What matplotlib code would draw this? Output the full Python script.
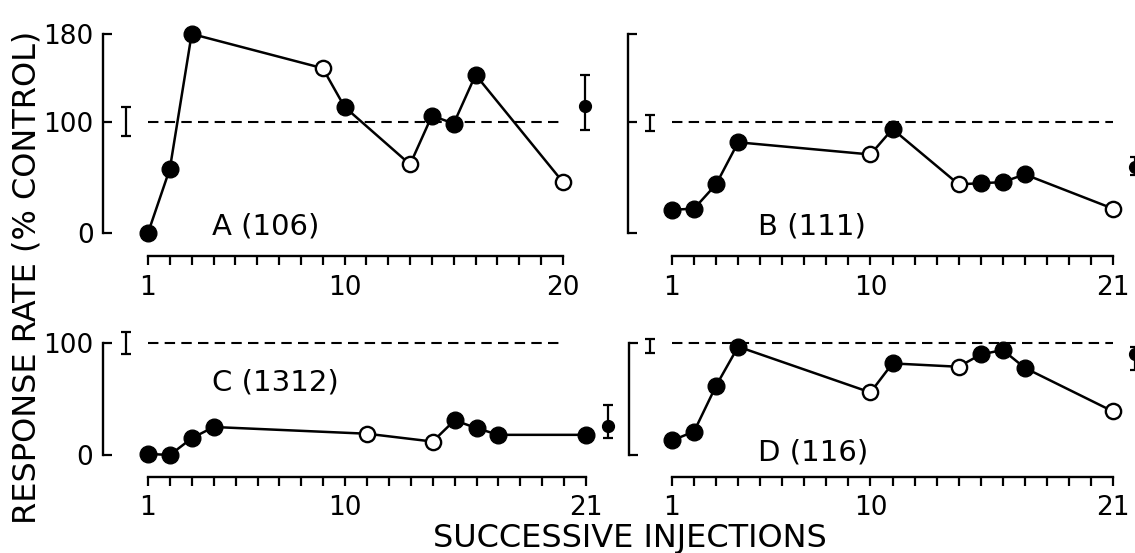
import matplotlib
matplotlib.use("Agg")
import matplotlib.pyplot as plt

# --- data (response rate, % of control) ---
A_inj = [1, 2, 3, 9, 10, 13, 14, 15, 16, 20]
A_rate = [0, 58, 180, 149, 114, 62, 106, 99, 143, 46]
A_open = [9, 13, 20]

B_inj = [1, 2, 3, 4, 10, 11, 14, 15, 16, 17, 21]
B_rate = [21, 22, 44, 82, 71, 94, 44, 45, 46, 53, 22]
B_open = [10, 14, 21]

C_inj = [1, 2, 3, 4, 11, 14, 15, 16, 17, 21]
C_rate = [1, 0, 15, 25, 19, 12, 31, 24, 18, 18]
C_open = [11, 14]

D_inj = [1, 2, 3, 4, 10, 11, 14, 15, 16, 17, 21]
D_rate = [13, 21, 62, 97, 56, 82, 79, 90, 94, 78, 39]
D_open = [10, 14, 21]

panel_names = ["A (106)", "B (111)", "C (1312)", "D (116)"]
n_inj = [20, 21, 21, 21]
y_top = [180, 180, 100, 100]
x_ticklabels = [["1", "10", "20"], ["1", "10", "21"], ["1", "10", "21"], ["1", "10", "21"]]

# control variability ("I" at left) and post-series point with range (right)
ctrl_lo = [88, 92, 90, 91]
ctrl_hi = [114, 107, 110, 104]
side_inj = [21, 22, 22, 22]
side_mean = [115, 60, 26, 90]
side_lo = [93, 52, 15, 76]
side_hi = [143, 69, 45, 97]

W, H = 1135, 553
fig = plt.figure(figsize=(W / 100, H / 100), dpi=100)
plt.rcParams["font.family"] = "DejaVu Sans"

# pixel geometry per panel: box (l, r, t, b), x of injection 1, px per injection, y of 0, px per %
GEOM = [
    ((95, 620, 20, 300), 148, 21.84, 233, 1.106),
    ((615, 1135, 20, 300), 672, 22.05, 233, 1.106),
    ((95, 620, 320, 520), 148, 21.9, 455, 1.12),
    ((615, 1135, 320, 520), 672, 22.05, 455, 1.117),
]
YSPINE_X = [-1.05, -1.0, -1.05, -0.97]
XSPINE_Y = [-20.8, -20.8, -19.4, -19.4]
DASH_END = [20, 21, 20, 21]
LABEL_POS = [(3.93, -1.8), (4.9, -1.8), (3.92, 58), (4.9, -4.5)]


def add_panel(box, x1, dx, y0, dy):
    l, r, t, b = box
    ax = fig.add_axes([l / W, 1 - b / H, (r - l) / W, (b - t) / H])
    ax.set_xlim(1 + (l - x1) / dx, 1 + (r - x1) / dx)
    ax.set_ylim((y0 - b) / dy, (y0 - t) / dy)
    ax.patch.set_visible(False)
    return ax


series = [(A_inj, A_rate, A_open), (B_inj, B_rate, B_open),
          (C_inj, C_rate, C_open), (D_inj, D_rate, D_open)]

for i, (inj, rate, opn) in enumerate(series):
    ax = add_panel(*GEOM[i])
    n = n_inj[i]

    for s in ["top", "right"]:
        ax.spines[s].set_visible(False)
    ax.spines["left"].set_position(("data", YSPINE_X[i]))
    ax.spines["left"].set_bounds(0, y_top[i])
    ax.spines["bottom"].set_position(("data", XSPINE_Y[i]))
    ax.spines["bottom"].set_bounds(1, n)
    for s in ["left", "bottom"]:
        ax.spines[s].set_linewidth(1.7)

    ax.set_xticks(range(1, n + 1))
    lab = {1: x_ticklabels[i][0], 10: x_ticklabels[i][1], n: x_ticklabels[i][2]}
    ax.set_xticklabels([lab.get(k, "") for k in range(1, n + 1)])
    ax.tick_params(axis="x", direction="out", length=6.5, width=1.6, pad=7, labelsize=19)

    yt = [0, 100, 180] if y_top[i] == 180 else [0, 100]
    ax.set_yticks(yt)
    if i in (0, 2):
        ax.set_yticklabels([str(v) for v in yt])
    else:
        ax.set_yticklabels([])
    ax.tick_params(axis="y", direction="in", length=6.5, width=1.6, pad=7, labelsize=19)

    # control level
    ax.plot([1, DASH_END[i]], [100, 100], ls=(0, (5, 3)), color="k", lw=1.5)
    ax.errorbar([0], [100], yerr=[[100 - ctrl_lo[i]], [ctrl_hi[i] - 100]], fmt="none",
                ecolor="k", elinewidth=1.6, capsize=3.5, capthick=1.6)

    ax.plot(inj, rate, "-", color="k", lw=1.8, zorder=2)
    fx = [x for x in inj if x not in opn]
    fy = [y for x, y in zip(inj, rate) if x not in opn]
    ox = [x for x in inj if x in opn]
    oy = [y for x, y in zip(inj, rate) if x in opn]
    ax.plot(fx, fy, "o", ms=12, color="k", zorder=3)
    ax.plot(ox, oy, "o", ms=11, mfc="white", mec="k", mew=1.7, zorder=3)

    m = side_mean[i]
    ax.errorbar([side_inj[i]], [m], yerr=[[m - side_lo[i]], [side_hi[i] - m]], fmt="o",
                ms=8.5, color="k", elinewidth=1.6, capsize=3.5, capthick=1.6, clip_on=False)

    ax.text(LABEL_POS[i][0], LABEL_POS[i][1], panel_names[i], fontsize=21,
            ha="left", va="baseline")

fig.text(630 / W, 1 - 547 / H, "SUCCESSIVE INJECTIONS", fontsize=23, ha="center", va="baseline")
fig.text(27 / W, 1 - 277 / H, "RESPONSE RATE (% CONTROL)", fontsize=23, rotation=90,
         ha="center", va="center")

fig.savefig("out.png", dpi=100)
